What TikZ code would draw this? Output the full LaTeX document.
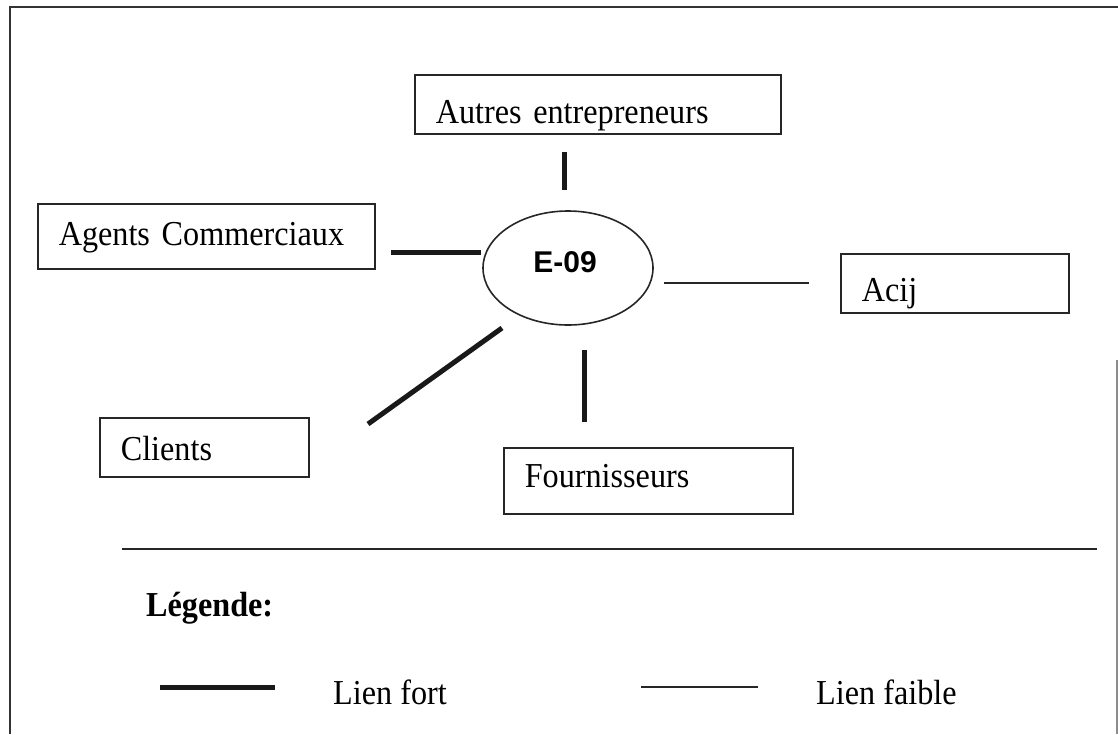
\documentclass[tikz,border=0pt]{standalone}
\usepackage{fontspec}
\setmainfont[FakeStretch=0.92]{Liberation Serif}
\setsansfont{Liberation Sans}
\usetikzlibrary{shapes.geometric}
\begin{document}
\begin{tikzpicture}[x=1pt,y=-1pt,
  actor/.style={draw=black!85, line width=1.6pt, rectangle, anchor=north west,
    inner xsep=21pt, inner ysep=0pt, align=left,
    font=\fontsize{35}{40}\selectfont},
  hub/.style={draw=black!85, line width=1.6pt, ellipse, inner sep=0pt,
    minimum width=170pt, minimum height=114pt},
  hublabel/.style={inner sep=0pt, font=\sffamily\bfseries\fontsize{30}{34}\selectfont},
  strong/.style={line width=5pt, black!90},
  weak/.style={line width=1.6pt, black!85},
  frameline/.style={line width=1.8pt, black!80},
  txt/.style={anchor=base west, inner sep=0pt, font=\fontsize{35}{40}\selectfont}
]
\useasboundingbox (0,0) rectangle (1118,734);

% outer frame
\coordinate (fTL) at (10,7);
\coordinate (fTR) at (1118,7);
\coordinate (fBL) at (10,734);
\coordinate (fRT) at (1117,360);
\coordinate (fRB) at (1117,734);
\draw[frameline] (fBL) -- (fTL) -- (fTR);
\draw[line width=1.2pt, black!45] (fRT) -- (fRB);

% partners: text height = baseline - top, text depth = bottom - baseline
\node[actor, text width=324pt, text height=49pt, text depth=10pt] (autres) at (414,74) {Autres entrepreneurs};
\node[actor, text width=295pt, text height=42pt, text depth=23pt] (agents) at (37,203) {Agents Commerciaux};
\node[actor, text width=186pt, text height=48pt, text depth=11pt] (acij) at (840,253) {Acij};
\node[actor, text width=167pt, text height=43pt, text depth=16pt] (clients) at (99,417) {Clients};
\node[actor, text width=247pt, text height=40pt, text depth=26pt] (fourn) at (503,447) {Fournisseurs};

% central firm
\node[hub] (e09) at (568,268) {};
\node[hublabel] (e09lbl) at (565,262) {E-09};

% link ends
\coordinate (aU) at (564,152);  \coordinate (aD) at (564,190);
\coordinate (gL) at (391,252);  \coordinate (gR) at (481,252);
\coordinate (cA) at (502,328);  \coordinate (cB) at (368,424);
\coordinate (fU) at (584,350);  \coordinate (fD) at (584,422);
\coordinate (jL) at (664,283);  \coordinate (jR) at (809,283);

\draw[strong] (aU) -- (aD);
\draw[strong] (gL) -- (gR);
\draw[strong] (cA) -- (cB);
\draw[strong] (fU) -- (fD);
\draw[weak] (jL) -- (jR);

% legend
\coordinate (sepL) at (122,549); \coordinate (sepR) at (1097,549);
\draw[weak] (sepL) -- (sepR);
\node[txt, font=\bfseries\fontsize{35}{40}\selectfont] (leg) at (146,616) {Légende:};
\coordinate (lsA) at (160,687); \coordinate (lsB) at (275,687);
\coordinate (lwA) at (641,687); \coordinate (lwB) at (758,687);
\draw[strong] (lsA) -- (lsB);
\draw[weak] (lwA) -- (lwB);
\node[txt] (fort) at (333,704) {Lien fort};
\node[txt] (faible) at (816,704) {Lien faible};
\end{tikzpicture}
\end{document}
